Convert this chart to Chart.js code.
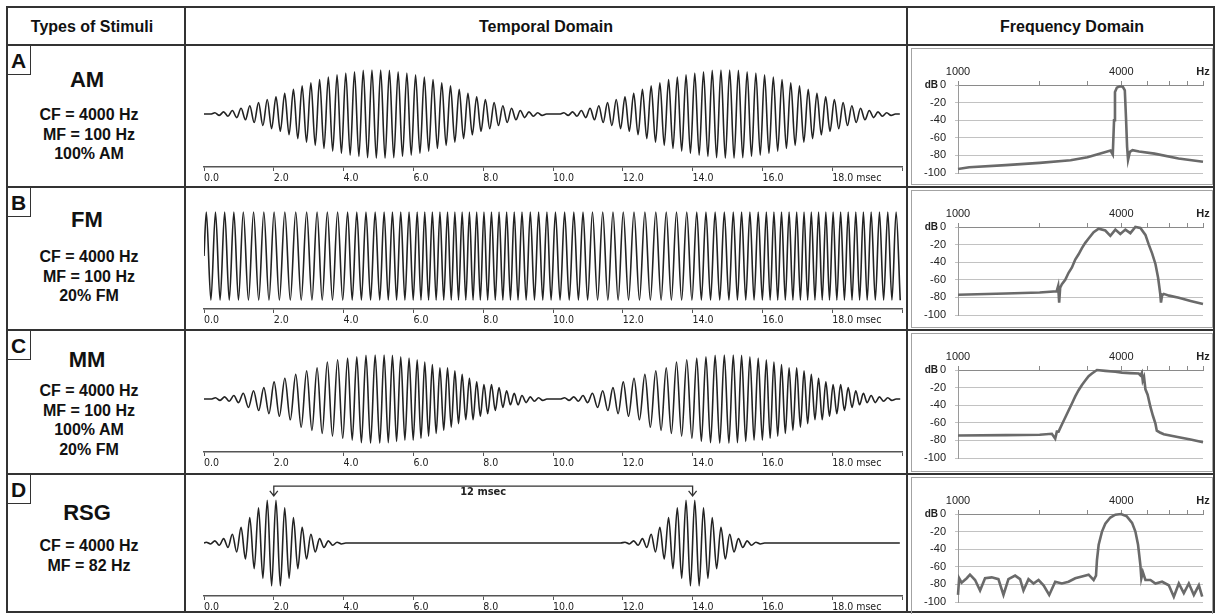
<!DOCTYPE html>
<html>
<head>
<meta charset="utf-8">
<script src="https://cdn.jsdelivr.net/npm/chart.js@4.4.1/dist/chart.umd.min.js"></script>
<style>
html, body { margin: 0; padding: 0; background: #fff; }
body { width: 1216px; height: 614px; position: relative; overflow: hidden;
       font-family: "Liberation Sans", Arial, sans-serif; color: #111; }
.ln { position: absolute; background: #333; }
.hd { position: absolute; top: 7px; height: 38px; line-height: 40px; text-align: center;
      font-weight: bold; font-size: 16px; white-space: nowrap; }
.tag { position: absolute; left: 7px; width: 23px; height: 28px; border-right: 1.5px solid #333;
       border-bottom: 1.5px solid #333; font-weight: bold; font-size: 21px; line-height: 30px; text-align: center; }
.name { position: absolute; left: 37px; width: 100px; text-align: center; font-weight: bold;
        font-size: 22px; line-height: 26px; }
.info { position: absolute; left: 29px; width: 120px; text-align: center; font-weight: bold;
        font-size: 16px; line-height: 19.5px; white-space: nowrap; }
.box { position: absolute; left: 911px; width: 300px; border: 1px solid #a3a3a3; }
canvas { position: absolute; }
</style>
</head>
<body>

<!-- table rules -->
<div class="ln" style="left:6px;top:6px;width:1209px;height:2px"></div>
<div class="ln" style="left:6px;top:611px;width:1209px;height:2px"></div>
<div class="ln" style="left:6px;top:6px;width:2px;height:607px"></div>
<div class="ln" style="left:1213px;top:6px;width:2px;height:607px"></div>
<div class="ln" style="left:184px;top:6px;width:2px;height:607px"></div>
<div class="ln" style="left:906px;top:6px;width:2px;height:607px"></div>
<div class="ln" style="left:6px;top:44px;width:1209px;height:2px"></div>
<div class="ln" style="left:6px;top:186px;width:1209px;height:2px"></div>
<div class="ln" style="left:6px;top:329px;width:1209px;height:2px"></div>
<div class="ln" style="left:6px;top:473px;width:1209px;height:2px"></div>

<div class="hd" style="left:12px;width:160px">Types of Stimuli</div>
<div class="hd" style="left:446px;width:200px">Temporal Domain</div>
<div class="hd" style="left:972px;width:200px">Frequency Domain</div>

<div class="tag" style="top:46px">A</div>
<div class="name" style="top:67px">AM</div>
<div class="info" style="top:105px">CF = 4000 Hz<br>MF = 100 Hz<br>100% AM</div>

<div class="tag" style="top:188px">B</div>
<div class="name" style="top:207px">FM</div>
<div class="info" style="top:247px">CF = 4000 Hz<br>MF = 100 Hz<br>20% FM</div>

<div class="tag" style="top:331px">C</div>
<div class="name" style="top:347px">MM</div>
<div class="info" style="top:381px">CF = 4000 Hz<br>MF = 100 Hz<br>100% AM<br>20% FM</div>

<div class="tag" style="top:475px">D</div>
<div class="name" style="top:500px">RSG</div>
<div class="info" style="top:536px">CF = 4000 Hz<br>MF = 82 Hz</div>

<div class="box" style="top:48px;height:135px"></div>
<div class="box" style="top:190px;height:136px"></div>
<div class="box" style="top:333px;height:137px"></div>
<div class="box" style="top:477px;height:140px"></div>

<canvas id="tA" width="718" height="138" style="left:186px;top:47px"></canvas>
<canvas id="tB" width="718" height="138" style="left:186px;top:189px"></canvas>
<canvas id="tC" width="718" height="138" style="left:186px;top:332px"></canvas>
<canvas id="tD" width="718" height="138" style="left:186px;top:476px"></canvas>

<canvas id="sA" width="299" height="130" style="left:912px;top:49px"></canvas>
<canvas id="sB" width="299" height="130" style="left:912px;top:191px"></canvas>
<canvas id="sC" width="299" height="130" style="left:912px;top:334px"></canvas>
<canvas id="sD" width="299" height="130" style="left:912px;top:478px"></canvas>

<script>
// time axis (msec) and frequency axis (Hz)
const timeTicks = [0, 2, 4, 6, 8, 10, 12, 14, 16, 18, 20];
const freqTicks = [1000, 2000, 3000, 4000, 5000, 6000, 7000, 8000];
const dbTicks = [0, -20, -40, -60, -80, -100];

// carrier 4000 Hz = 4 cycles per msec
const cfKHz = 4.0;

// envelope of one AM lobe, peak amplitude per 0.25 msec bin (1 = full scale)
const envStepMs = 0.25;
const amLobe = [0.00, 0.03, 0.05, 0.08, 0.13, 0.19, 0.26, 0.33, 0.39, 0.47,
                0.56, 0.64, 0.71, 0.78, 0.84, 0.89, 0.93, 0.96, 0.99, 1.00,
                1.00, 0.99, 0.96, 0.93, 0.89, 0.84, 0.78, 0.71, 0.64, 0.56,
                0.47, 0.39, 0.33, 0.26, 0.19, 0.13, 0.08, 0.05, 0.03, 0.00];
const amLobeStartMs = [0, 10];
const mmLobeStartMs = [0, 10];

// FM: instantaneous carrier rate per 1 msec bin (kHz), 20% FM at 100 Hz
const fmRateKHz = [3.8, 3.4, 3.2, 3.4, 3.8, 4.2, 4.6, 4.8, 4.6, 4.2,
                   3.8, 3.4, 3.2, 3.4, 3.8, 4.2, 4.6, 4.8, 4.6, 4.2];
const fmLevel = 1.0;

// RSG: one gated burst, peak amplitude per 0.25 msec bin
const rsgBurst = [0.02, 0.05, 0.10, 0.20, 0.36, 0.58, 0.80, 0.97,
                  0.97, 0.80, 0.58, 0.36, 0.20, 0.10, 0.05, 0.02];
const rsgBurstStartMs = [0, 12];
const rsgArrowMs = [2.0, 14.0];

// spectra (Hz, dB)
const amSpecHz = [1000, 1100, 1500, 2000, 2600, 3000, 3500, 3650, 3720, 3760, 3790, 3850, 3950,
                  4050, 4120, 4165, 4200, 4235, 4300, 4400, 4650, 5300, 6500, 8000];
const amSpecDb = [-95.5, -93.5, -91, -88.5, -85.5, -82, -76, -74.5, -79, -40, -8, -3, -1.5,
                  -2, -6, -40, -70, -85, -76, -74, -75.5, -78, -83.5, -87.3];

const fmSpecHz = [1000, 1500, 2000, 2310, 2340, 2360, 2380, 2415, 2485, 2556, 2630, 2705, 2783,
                  2863, 2945, 3030, 3162, 3300, 3491, 3644, 3802, 3966, 4140, 4319, 4507, 4702,
                  4908, 5049, 5194, 5343, 5467, 5560, 5600, 5650, 5736, 6000, 6516, 7200, 8000];
const fmSpecDb = [-77, -75.5, -74.5, -73, -67, -86, -69, -65, -60, -52, -46, -37, -31,
                  -24, -18, -13, -6, -2, -4, -10, -3, -8, -3, -7, 0, -1,
                  -9, -20, -30, -42, -58, -75, -86, -78, -76, -78, -80.5, -84, -87.5];

const mmSpecHz = [1000, 1500, 2000, 2218, 2282, 2314, 2348, 2415, 2485, 2556, 2630, 2705, 2783,
                  2863, 2945, 3030, 3117, 3253, 3491, 3800, 4024, 4300, 4636, 4702, 4760, 4797,
                  4850, 4908, 5000, 5121, 5230, 5343, 5405, 5550, 5736, 6516, 7200, 8000];
const mmSpecDb = [-74.5, -74, -73.5, -72.5, -78, -70, -70, -62, -54, -46, -38, -30, -23,
                  -17, -12, -7, -4, 0, -1, -2, -3, -3.5, -4, -6, -3, -12,
                  -8, -22, -28, -42, -52, -61, -69, -71, -73, -76.5, -79, -82];

const rsgSpecHz = [1000, 1010, 1031, 1077, 1107, 1156, 1206, 1258, 1331, 1409, 1471, 1534, 1624,
                   1694, 1743, 1819, 1898, 1981, 2067, 2169, 2282, 2415, 2556, 2705, 2863, 3030,
                   3162, 3226, 3253, 3300, 3394, 3491, 3644, 3802, 3990, 4190, 4382, 4507, 4610,
                   4702, 4740, 4800, 4908, 5121, 5343, 5654, 5984, 6245, 6516, 6798, 7094, 7402,
                   7724, 7946];
const rsgSpecDb = [-92, -73, -78, -73, -69, -75, -87, -73, -72, -74, -92, -74, -70,
                   -74, -87, -74, -79, -75, -81, -92, -77, -79, -77, -73, -71, -69,
                   -75, -70, -52, -35, -20, -11, -4, -0.8, 0, -2.7, -10, -20, -35,
                   -58, -73, -66, -75, -75, -79, -77, -81, -94, -79, -90, -79, -92,
                   -81, -94];

const narrow = "'Liberation Sans Narrow', 'DejaVu Sans Condensed', 'Liberation Sans', sans-serif";
const sans = "'Liberation Sans', Arial, sans-serif";

function envAt(starts, env, t) {
  for (const s of starts) {
    const i = Math.floor((t - s) / envStepMs);
    if (i >= 0 && i < env.length) return env[i];
  }
  return 0;
}

// one point per half cycle (its peak), alternating sign
function wave(level, rate) {
  const pts = [{ x: 0, y: 0 }];
  let t = 0, sign = 1;
  while (t < 20) {
    const k = Array.isArray(rate) ? rate[Math.min(rate.length - 1, Math.floor(t))] : rate;
    const half = 0.5 / k;
    const tp = t + half / 2;
    if (tp > 20) break;
    pts.push({ x: tp, y: sign * level(tp) });
    sign = -sign;
    t += half;
  }
  return pts;
}

const arrowPlugin = {
  id: 'arrow',
  afterDatasetsDraw(c) {
    const xs = c.scales.x, ys = c.scales.y, ctx = c.ctx;
    const x0 = xs.getPixelForValue(rsgArrowMs[0]), x1 = xs.getPixelForValue(rsgArrowMs[1]);
    const yTop = ys.getPixelForValue(1.29), yTip = ys.getPixelForValue(1.07);
    ctx.save();
    ctx.strokeStyle = '#333';
    ctx.lineWidth = 1.3;
    ctx.beginPath();
    ctx.moveTo(x0, yTip); ctx.lineTo(x0, yTop); ctx.lineTo(x1, yTop); ctx.lineTo(x1, yTip);
    for (const x of [x0, x1]) {
      ctx.moveTo(x - 4, yTip - 5); ctx.lineTo(x, yTip); ctx.lineTo(x + 4, yTip - 5);
    }
    ctx.stroke();
    ctx.font = 'bold 11px ' + narrow;
    ctx.fillStyle = '#222';
    ctx.textAlign = 'center';
    ctx.textBaseline = 'middle';
    ctx.fillText('12 msec', xs.getPixelForValue((rsgArrowMs[0] + rsgArrowMs[1]) / 2), ys.getPixelForValue(1.15));
    ctx.restore();
  }
};

const dbPlugin = {
  id: 'dbLabel',
  afterDraw(c) {
    const ctx = c.ctx;
    ctx.save();
    ctx.font = 'bold 10px ' + sans;
    ctx.fillStyle = '#222';
    ctx.textAlign = 'right';
    ctx.textBaseline = 'middle';
    ctx.fillText('dB', c.chartArea.left - 20, c.scales.y.getPixelForValue(0));
    ctx.restore();
  }
};

function makeWave(id, points, extra) {
  return new Chart(document.getElementById(id), {
    type: 'line',
    data: {
      datasets: [{
        data: points,
        borderColor: '#222',
        borderWidth: 1.6,
        pointRadius: 0,
        cubicInterpolationMode: 'monotone',
        fill: false
      }]
    },
    options: {
      responsive: false,
      animation: false,
      devicePixelRatio: 1,
      layout: { padding: { left: 18, right: 2, top: 0, bottom: 0 } },
      plugins: { legend: { display: false }, tooltip: { enabled: false } },
      scales: {
        x: {
          type: 'linear', min: 0, max: 20,
          afterBuildTicks: s => { s.ticks = timeTicks.map(v => ({ value: v })); },
          afterFit: s => { s.height = 18; s.paddingLeft = 0; s.paddingRight = 0; },
          border: { color: '#555', width: 1.5 },
          grid: { drawOnChartArea: false, tickLength: 4, color: '#555' },
          ticks: {
            align: 'start', padding: 1, maxRotation: 0, autoSkip: false, color: '#222',
            font: { family: narrow, size: 10.5 },
            callback: v => v === 18 ? '18.0 msec' : v === 20 ? '' : v.toFixed(1)
          }
        },
        y: { display: false, min: -1.2, max: 1.52 }
      }
    },
    plugins: extra ? [extra] : []
  });
}

function makeSpec(id, hz, db) {
  return new Chart(document.getElementById(id), {
    type: 'line',
    data: {
      datasets: [{
        data: hz.map((f, i) => ({ x: f, y: db[i] })),
        borderColor: '#6a6a6a',
        borderWidth: 2.6,
        pointRadius: 0,
        tension: 0,
        clip: 4
      }]
    },
    options: {
      responsive: false,
      animation: false,
      devicePixelRatio: 1,
      layout: { padding: { left: 0, right: 8, top: 0, bottom: 6 } },
      plugins: { legend: { display: false }, tooltip: { enabled: false } },
      scales: {
        x: {
          type: 'logarithmic', position: 'top', min: 1000, max: 8000,
          afterBuildTicks: s => { s.ticks = freqTicks.map(v => ({ value: v })); },
          afterFit: s => { s.height = 36; s.paddingLeft = 0; s.paddingRight = 0; },
          border: { color: '#8a8a8a', width: 1 },
          grid: { drawOnChartArea: false, tickLength: 4, color: '#8a8a8a' },
          ticks: {
            padding: 2, maxRotation: 0, autoSkip: false, color: '#222',
            font: c => ({ family: sans, size: 11, weight: c.tick && c.tick.value === 8000 ? 'bold' : 'normal' }),
            callback: v => v === 1000 ? '1000' : v === 4000 ? '4000' : v === 8000 ? 'Hz' : ''
          }
        },
        y: {
          min: -100, max: 0,
          afterBuildTicks: s => { s.ticks = dbTicks.map(v => ({ value: v })); },
          afterFit: s => { s.width = 46; s.paddingTop = 0; s.paddingBottom = 0; },
          border: { color: '#9a9a9a', width: 1 },
          grid: { color: '#c2c2c2', tickLength: 3 },
          ticks: { padding: 9, color: '#222', font: { family: sans, size: 11 }, callback: v => String(v) }
        }
      }
    },
    plugins: [dbPlugin]
  });
}

makeWave('tA', wave(t => envAt(amLobeStartMs, amLobe, t), cfKHz));
makeWave('tB', wave(() => fmLevel, fmRateKHz));
makeWave('tC', wave(t => envAt(mmLobeStartMs, amLobe, t), fmRateKHz));
makeWave('tD', wave(t => envAt(rsgBurstStartMs, rsgBurst, t), cfKHz), arrowPlugin);

makeSpec('sA', amSpecHz, amSpecDb);
makeSpec('sB', fmSpecHz, fmSpecDb);
makeSpec('sC', mmSpecHz, mmSpecDb);
makeSpec('sD', rsgSpecHz, rsgSpecDb);
</script>
</body>
</html>
